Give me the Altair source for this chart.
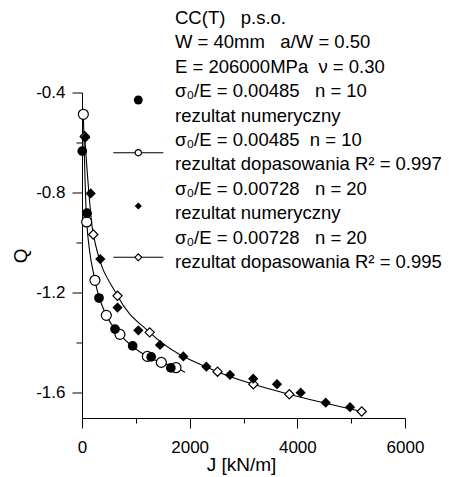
import altair as alt
import pandas as pd

FONT = "Liberation Sans"
NB = "\u00a0"

# ---- values ----
# sigma0/E = 0.00485, n = 10, numerical result (filled circles)
num1_J = [5, 93, 316, 613, 941, 1285, 1650]
num1_Q = [-0.634, -0.882, -1.221, -1.345, -1.412, -1.456, -1.500]
# sigma0/E = 0.00485, n = 10, fit result (open circles)
fit1_J = [25, 87, 241, 452, 705, 1214, 1474, 1746]
fit1_Q = [-0.487, -0.917, -1.150, -1.290, -1.366, -1.454, -1.478, -1.499]
# fit curve 1
curve1_J = [25, 87, 241, 452, 705, 1214, 1474, 1746, 1913]
curve1_Q = [-0.487, -0.917, -1.150, -1.290, -1.366, -1.454, -1.478, -1.499, -1.517]
# sigma0/E = 0.00728, n = 20, numerical result (filled diamonds)
num2_J = [60, 161, 340, 660, 1046, 1449, 1882, 2310, 2749, 3180, 3622, 4062, 4527, 4979]
num2_Q = [-0.580, -0.803, -1.065, -1.259, -1.350, -1.408, -1.454, -1.495, -1.528,
          -1.543, -1.565, -1.599, -1.639, -1.657]
# sigma0/E = 0.00728, n = 20, fit result (open diamonds)
fit2_J = [50, 210, 660, 1257, 2518, 3183, 3851, 5196]
fit2_Q = [-0.575, -0.967, -1.212, -1.358, -1.515, -1.565, -1.605, -1.674]
# fit curve 2
curve2_J = [50, 210, 660, 1257, 2518, 3183, 3851, 5196]
curve2_Q = [-0.575, -0.967, -1.212, -1.358, -1.515, -1.565, -1.605, -1.674]

x_ticks = [0, 1000, 2000, 3000, 4000, 5000, 6000]
y_ticks = [-0.4, -0.6, -0.8, -1.0, -1.2, -1.4, -1.6]

legend_lines = [
    "CC(T)   p.s.o.",
    "W = 40mm   a/W = 0.50",
    "E = 206000MPa  \u03bd = 0.30",
    "\u03c3\u2080/E = 0.00485   n = 10",
    "rezultat numeryczny",
    "\u03c3\u2080/E = 0.00485  n = 10",
    "rezultat dopasowania R\u00b2 = 0.997",
    "\u03c3\u2080/E = 0.00728   n = 20",
    "rezultat numeryczny",
    "\u03c3\u2080/E = 0.00728   n = 20",
    "rezultat dopasowania R\u00b2 = 0.995",
]
# keep repeated spaces visible in SVG
legend_lines = [s.replace("  ", NB + NB) for s in legend_lines]

W, H = 323, 325.5

X = alt.X(
    "J:Q",
    scale=alt.Scale(domain=[0, 6000], nice=False, zero=False),
    axis=alt.Axis(
        values=x_ticks,
        tickSize={"condition": {"test": "datum.value % 2000 === 0", "value": 10}, "value": 5},
        labelExpr="datum.value % 2000 === 0 ? format(datum.value, 'd') : ''",
        labelPadding=11,
        labelFontSize=17,
        labelFont=FONT,
        labelColor="black",
        labelFlush=False,
        labelOverlap=False,
        title="J [kN/m]",
        titleFont=FONT,
        titleFontSize=19,
        titleFontWeight="normal",
        titleColor="black",
        titleX=159,
        titleY=52,
        titleAlign="center",
        titleBaseline="alphabetic",
        grid=False,
        domainColor="black",
        tickColor="black",
    ),
)

Y = alt.Y(
    "Q:Q",
    scale=alt.Scale(domain=[-1.7, -0.4], nice=False, zero=False),
    axis=alt.Axis(
        values=y_ticks,
        tickSize={"condition": {"test": "abs(round(datum.value * 10)) % 4 === 0", "value": 10}, "value": 6},
        labelExpr="abs(round(datum.value * 10)) % 4 === 0 ? '-' + format(abs(datum.value), '.1f') : ''",
        labelPadding=7,
        labelFontSize=17,
        labelFont=FONT,
        labelColor="black",
        labelFlush=False,
        labelOverlap=False,
        title="Q",
        titleFont=FONT,
        titleFontSize=19,
        titleFontWeight="normal",
        titleColor="black",
        titleX=-62,
        titleY=H / 2,
        titleAlign="center",
        titleBaseline="middle",
        grid=False,
        domainColor="black",
        tickColor="black",
    ),
)

d_num1 = pd.DataFrame({"J": num1_J, "Q": num1_Q})
d_fit1 = pd.DataFrame({"J": fit1_J, "Q": fit1_Q})
d_cur1 = pd.DataFrame({"J": curve1_J, "Q": curve1_Q})
d_num2 = pd.DataFrame({"J": num2_J, "Q": num2_Q})
d_fit2 = pd.DataFrame({"J": fit2_J, "Q": fit2_Q})
d_cur2 = pd.DataFrame({"J": curve2_J, "Q": curve2_Q})

line1 = alt.Chart(d_cur1).mark_line(color="black", strokeWidth=1.1, interpolate="monotone").encode(x=X, y=Y)
line2 = alt.Chart(d_cur2).mark_line(color="black", strokeWidth=1.1, interpolate="monotone").encode(x=X, y=Y)

open1 = alt.Chart(d_fit1).mark_point(shape="circle", filled=True, fill="white", stroke="black",
                                     strokeWidth=1.2, size=100, opacity=1).encode(x=X, y=Y)
open2 = alt.Chart(d_fit2).mark_point(shape="diamond", filled=True, fill="white", stroke="black",
                                     strokeWidth=1.2, size=85, opacity=1).encode(x=X, y=Y)
full1 = alt.Chart(d_num1).mark_point(shape="circle", filled=True, color="black",
                                     size=95, opacity=1).encode(x=X, y=Y)
full2 = alt.Chart(d_num2).mark_point(shape="diamond", filled=True, color="black",
                                     size=105, opacity=1).encode(x=X, y=Y)

one = pd.DataFrame({"a": [0]})

legend_text = alt.Chart(one).mark_text(
    align="left", baseline="alphabetic", font=FONT, fontSize=18.5, lineHeight=24.4, color="black"
).encode(x=alt.value(93), y=alt.value(-68.5), text=alt.value(legend_lines))

sym_x = 56.3
leg_rule1 = alt.Chart(one).mark_rule(color="black", strokeWidth=1.1).encode(
    x=alt.value(31.3), x2=alt.value(81.3), y=alt.value(60.2))
leg_rule2 = alt.Chart(one).mark_rule(color="black", strokeWidth=1.1).encode(
    x=alt.value(31.3), x2=alt.value(81.3), y=alt.value(164.8))
leg_s1 = alt.Chart(one).mark_point(shape="circle", filled=True, color="black", size=80, opacity=1).encode(
    x=alt.value(sym_x), y=alt.value(7.5))
leg_s2 = alt.Chart(one).mark_point(shape="circle", filled=True, fill="white", stroke="black",
                                   strokeWidth=1.2, size=40, opacity=1).encode(
    x=alt.value(sym_x), y=alt.value(60.2))
leg_s3 = alt.Chart(one).mark_point(shape="diamond", filled=True, color="black", size=52, opacity=1).encode(
    x=alt.value(sym_x), y=alt.value(113.5))
leg_s4 = alt.Chart(one).mark_point(shape="diamond", filled=True, fill="white", stroke="black",
                                   strokeWidth=1.2, size=48, opacity=1).encode(
    x=alt.value(sym_x), y=alt.value(164.8))

chart = alt.layer(
    line1, line2, open1, open2, full1, full2,
    legend_text, leg_rule1, leg_rule2, leg_s1, leg_s2, leg_s3, leg_s4,
).properties(
    width=W, height=H,
    autosize=alt.AutoSizeParams(type="none"),
    padding={"left": 82, "top": 92.5, "right": 50, "bottom": 58.5},
    background="white",
).configure_view(stroke=None)

chart.save("out.html", embed_options={"renderer": "svg", "actions": False})
